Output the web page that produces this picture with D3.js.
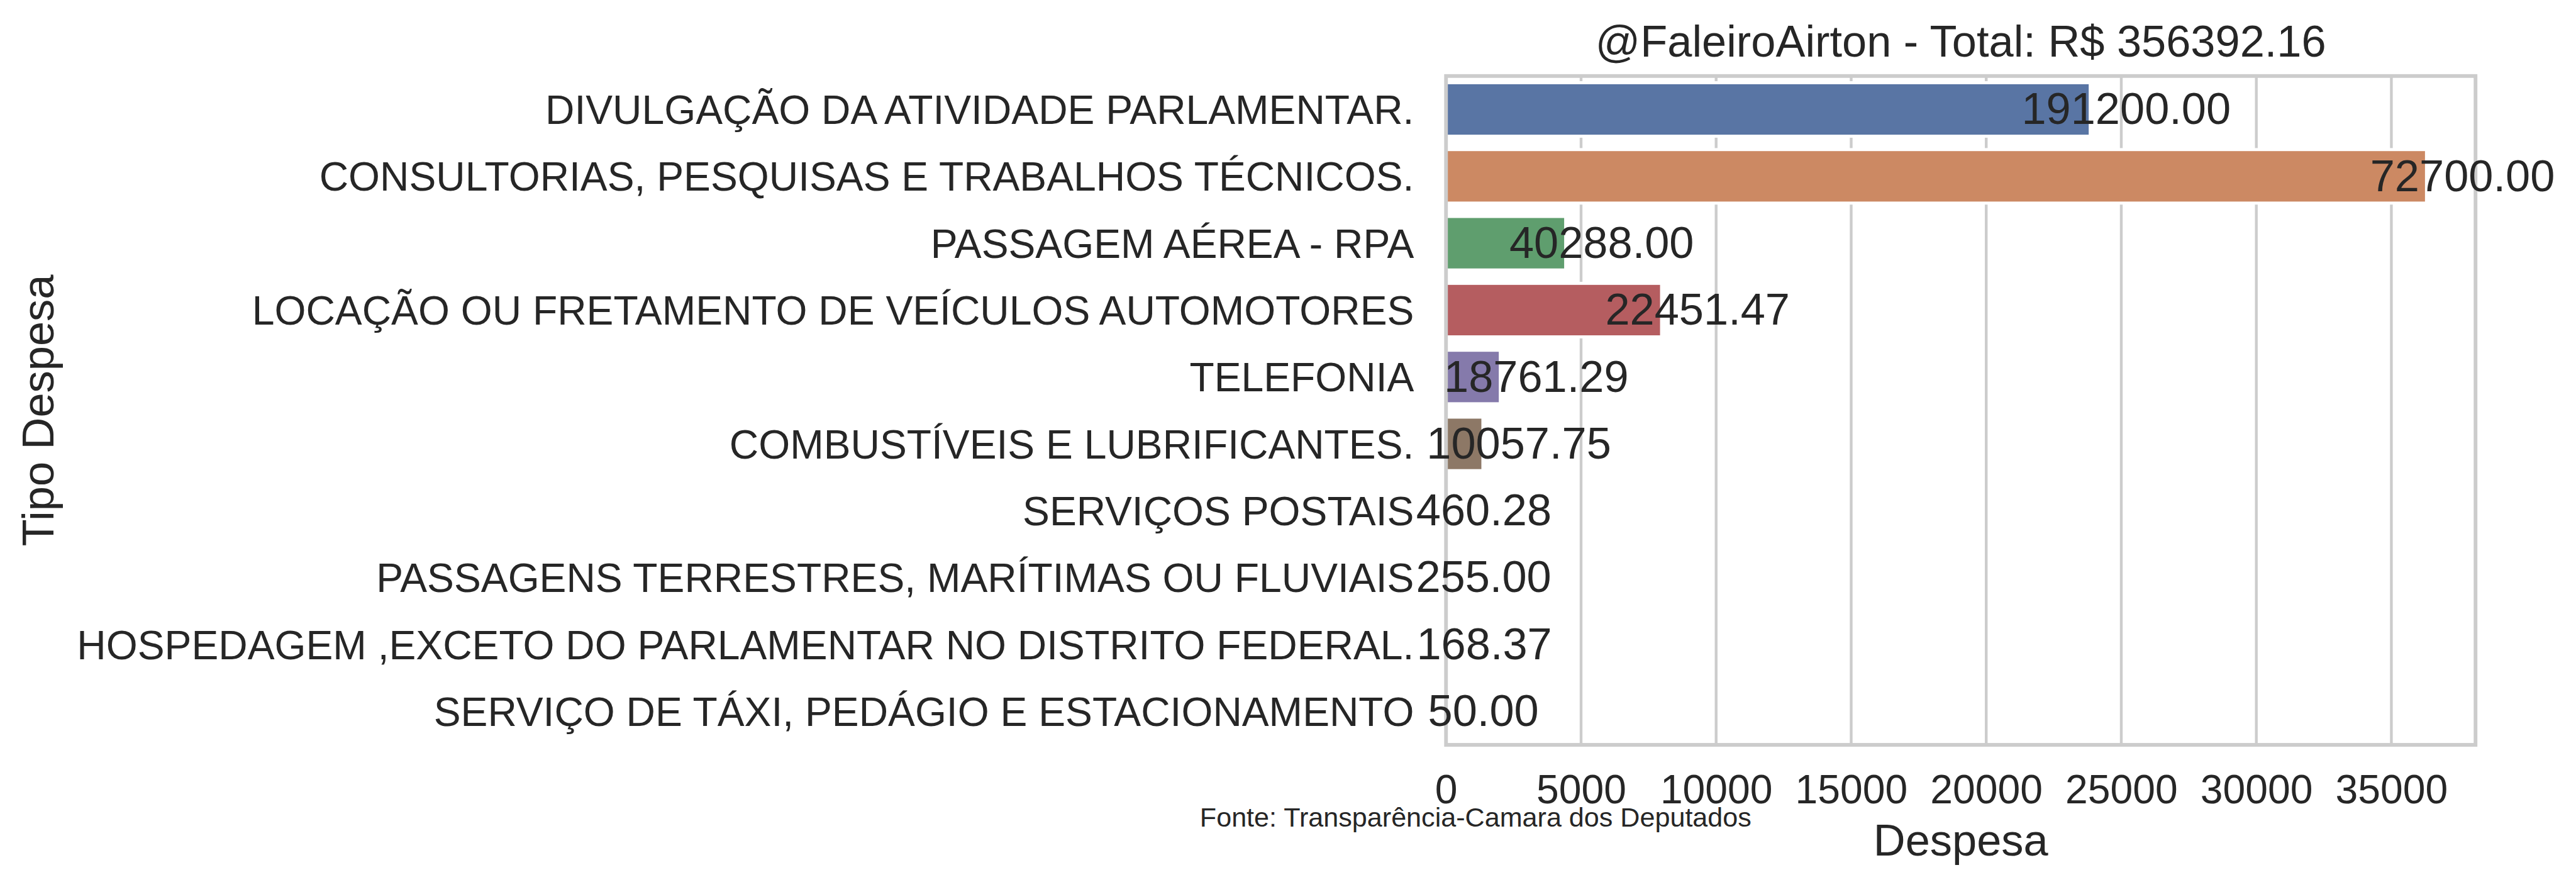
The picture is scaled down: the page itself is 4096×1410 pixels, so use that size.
<!DOCTYPE html>
<html>
<head>
<meta charset="utf-8">
<script src="https://cdn.jsdelivr.net/npm/d3@7"></script>
<style>
  html, body { margin: 0; padding: 0; background: #ffffff; }
  svg { display: block; }
  text { font-family: "Liberation Sans", Arial, sans-serif; fill: #262626; }
</style>
</head>
<body>
<svg id="chart" width="4096" height="1410"></svg>
<script>
// ---- data ----
const categories = [
  "DIVULGAÇÃO DA ATIVIDADE PARLAMENTAR.",
  "CONSULTORIAS, PESQUISAS E TRABALHOS TÉCNICOS.",
  "PASSAGEM AÉREA - RPA",
  "LOCAÇÃO OU FRETAMENTO DE VEÍCULOS AUTOMOTORES",
  "TELEFONIA",
  "COMBUSTÍVEIS E LUBRIFICANTES.",
  "SERVIÇOS POSTAIS",
  "PASSAGENS TERRESTRES, MARÍTIMAS OU FLUVIAIS",
  "HOSPEDAGEM ,EXCETO DO PARLAMENTAR NO DISTRITO FEDERAL.",
  "SERVIÇO DE TÁXI, PEDÁGIO E ESTACIONAMENTO"
];
const barValues = [23850, 36300, 4430, 7980, 2010, 1365, 70, 60, 85, 50];
const labelValues = [191200.00, 72700.00, 40288.00, 22451.47, 18761.29, 10057.75, 460.28, 255.00, 168.37, 50.00];
const barColors = ["#5975a4", "#cc8963", "#5f9e6e", "#b55d60", "#857aab", "#8d7866", "#d095bf", "#8c8c8c", "#c1b37f", "#71aec0"];
const xTicks = [0, 5000, 10000, 15000, 20000, 25000, 30000, 35000];
const titlePrefix = "@FaleiroAirton - Total: R$ ";
const xLabel = "Despesa";
const yLabel = "Tipo Despesa";
const sourceNote = "Fonte: Transparência-Camara dos Deputados";

// ---- layout (reference pixel units, scaled by 0.88) ----
const S = 0.88;
const L = 2612.8, R = 4473, T = 137.3, B = 1345.5;
const tickFont = 73, labelFont = 80, noteFont = 49;
const gridColor = "#cccccc";

const svg = d3.select("#chart");
const g = svg.append("g").attr("transform", `scale(${S})`);

const xMax = d3.max(barValues) * 1.05;
const x = d3.scaleLinear().domain([0, xMax]).range([L, R]);
const y = d3.scaleBand().domain(categories).range([T, B]).paddingInner(0.2).paddingOuter(0.1);

// gridlines
g.append("g").selectAll("line").data(xTicks).join("line")
  .attr("x1", d => x(d)).attr("x2", d => x(d))
  .attr("y1", T).attr("y2", B)
  .attr("stroke", gridColor).attr("stroke-width", 5);

// bars
const data = categories.map((c, i) => ({ c, v: barValues[i], lab: labelValues[i], col: barColors[i] }));
g.append("g").selectAll("rect").data(data).join("rect")
  .attr("x", x(0))
  .attr("y", d => y(d.c))
  .attr("width", d => x(d.v) - x(0))
  .attr("height", y.bandwidth())
  .attr("fill", d => d.col)
  .attr("stroke", "#ffffff")
  .attr("stroke-width", 5.5);

// spines
g.append("rect")
  .attr("x", L).attr("y", T).attr("width", R - L).attr("height", B - T)
  .attr("fill", "none").attr("stroke", gridColor).attr("stroke-width", 6.7);

// x axis tick labels
const xAxis = d3.axisBottom(x).tickValues(xTicks).tickSize(0).tickPadding(53.7).tickFormat(d3.format("d"));
const xg = g.append("g").attr("transform", `translate(0,${B})`).call(xAxis);
xg.select(".domain").remove();
xg.selectAll("text").attr("font-size", tickFont).attr("fill", "#262626")
  .style("font-family", '"Liberation Sans", Arial, sans-serif');

// y axis tick labels
const yAxis = d3.axisLeft(y).tickSize(0).tickPadding(L - 2555);
const yg = g.append("g").attr("transform", `translate(${L},0)`).call(yAxis);
yg.select(".domain").remove();
yg.selectAll("text").attr("font-size", tickFont).attr("fill", "#262626").attr("dy", "0.36em")
  .style("font-family", '"Liberation Sans", Arial, sans-serif');

// value labels
g.append("g").selectAll("text").data(data).join("text")
  .attr("x", d => x(d.v) + 65)
  .attr("y", d => y(d.c) + y.bandwidth() / 2)
  .attr("dy", "0.33em")
  .attr("text-anchor", "middle")
  .attr("font-size", labelFont)
  .text(d => d.lab.toFixed(2));

// title
const total = d3.sum(labelValues);
g.append("text")
  .attr("x", (L + R) / 2).attr("y", 102.7)
  .attr("text-anchor", "middle").attr("font-size", labelFont)
  .text(titlePrefix + total.toFixed(2));

// axis labels
g.append("text")
  .attr("x", (L + R) / 2).attr("y", 1546)
  .attr("text-anchor", "middle").attr("font-size", labelFont)
  .text(xLabel);
g.append("text")
  .attr("transform", `translate(96.7,${(T + B) / 2}) rotate(-90)`)
  .attr("text-anchor", "middle").attr("font-size", labelFont)
  .text(yLabel);

// source note
g.append("text")
  .attr("x", 2168).attr("y", 1493)
  .attr("font-size", noteFont)
  .text(sourceNote);
</script>
</body>
</html>
